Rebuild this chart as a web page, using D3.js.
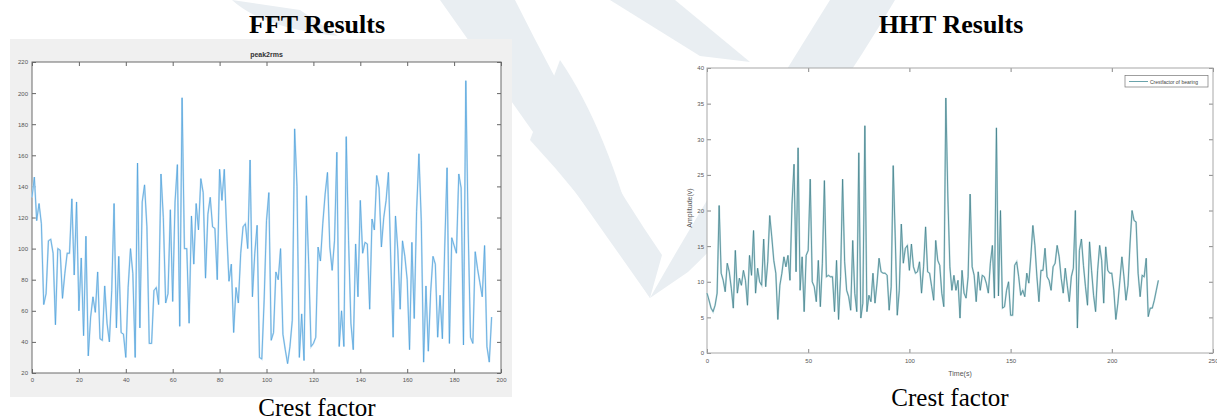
<!DOCTYPE html>
<html lang="en">
<head>
<meta charset="UTF-8">
<title>Crest factor - FFT vs HHT</title>
<script src="https://cdn.jsdelivr.net/npm/d3@7"></script>
<style>
  body { margin: 0; background: #fff; }
  svg text { font-family: "Liberation Sans", Arial, sans-serif; }
  .cap { font-family: "Liberation Serif", "Times New Roman", serif; fill: #000; }
</style>
</head>
<body>
<script>
// ---- data ----
var fftTitle = "peak2rms";
var fftXTicks = [0, 20, 40, 60, 80, 100, 120, 140, 160, 180, 200];
var fftYTicks = [20, 40, 60, 80, 100, 120, 140, 160, 180, 200, 220];
// peak2rms per sample, index = x
var fftValues = [
  133,146,118,129,116,64,71,105,106,97,
  51,100,99,68,84,97,97,132,83,130,
  60,94,44,108,31,56,69,59,85,42,
  41,76,52,40,73,129,49,95,46,45,
  30,75,100,84,30,155,49,130,141,114,
  39,39,73,75,64,148,120,65,71,125,
  66,130,154,50,197,100,100,52,121,90,
  129,112,145,136,81,122,133,114,113,80,
  151,131,151,112,79,90,46,75,65,97,
  114,116,100,157,69,97,115,30,29,67,
  118,136,41,46,85,80,100,45,35,26,
  37,54,177,140,30,58,28,134,90,37,
  39,43,101,92,116,135,149,101,86,105,
  162,37,60,37,172,105,52,35,103,69,
  131,97,104,103,61,119,112,147,139,101,
  120,131,149,92,43,121,99,61,105,95,
  80,35,104,55,124,161,118,27,76,34,
  72,95,90,43,70,42,101,152,39,107,
  102,97,148,139,38,208,112,43,39,98,
  87,78,69,102,37,27,56
];

var hhtXTicks = [0, 50, 100, 150, 200, 250];
var hhtYTicks = [0, 5, 10, 15, 20, 25, 30, 35, 40];
var hhtLegend = "Crestfactor of bearing";
// crest factor per second, index = time(s)
var hhtValues = [
  8.4,7.4,6.3,5.8,6.7,8.4,20.7,11.2,10.2,8.6,
  12.6,11.4,9.1,6.3,14.4,8.4,10.5,9.5,11.6,10.2,
  6.7,13.7,10.9,17.2,8.4,11.9,10.0,9.5,16.0,9.3,
  12.8,19.3,16.3,13.0,11.2,4.7,9.5,11.2,13.5,12.1,
  13.7,10.2,20.9,26.5,11.4,28.8,8.8,13.5,5.8,13.7,
  14.4,24.4,10.0,9.3,7.2,13.0,6.5,12.6,24.2,10.7,
  10.9,10.7,10.7,5.8,13.0,4.7,10.7,24.4,12.8,8.8,
  7.9,6.0,15.8,8.4,5.8,28.1,4.9,7.0,31.9,5.8,
  8.1,7.2,11.2,7.0,9.8,13.3,11.4,11.2,11.2,10.9,
  6.0,9.3,26.3,16.3,5.3,8.8,18.1,12.6,14.7,15.1,
  11.6,15.3,12.1,11.2,11.4,12.8,8.4,12.1,17.7,11.4,
  11.2,9.3,7.4,15.8,13.0,12.3,8.4,6.5,35.8,21.9,
  12.1,8.8,10.9,8.8,10.2,4.9,11.6,8.4,7.7,10.7,
  22.3,12.1,10.9,7.2,11.4,8.8,10.9,10.7,9.8,8.4,
  12.6,15.1,7.7,31.6,8.0,20.0,6.3,6.5,8.8,10.0,
  5.3,5.3,12.3,12.8,10.7,8.1,8.8,7.9,11.2,9.8,
  13.5,17.9,15.1,10.7,7.2,11.6,11.6,14.7,10.7,10.2,
  8.8,12.1,12.6,15.1,13.5,10.5,8.4,11.9,9.5,7.2,
  10.7,11.9,20.0,3.5,14.4,16.0,12.3,9.3,6.7,15.6,
  11.6,8.1,5.8,11.6,15.1,13.0,7.0,14.9,11.6,11.2,
  11.2,8.8,4.7,7.0,10.2,13.5,10.7,7.4,9.5,15.3,
  20.0,18.6,18.4,11.2,7.9,10.9,10.7,13.3,5.1,6.3,
  6.3,7.4,8.8,10.2
];

var W = 1217, H = 420;
var svg = d3.select("body").append("svg")
  .attr("width", W).attr("height", H);

svg.append("rect").attr("width", W).attr("height", H).attr("fill", "#fff");

// faint watermark behind everything
var wm = svg.append("g").attr("fill", "#e9eef2");
wm.append("path").attr("d", "M440,0 L515,0 Q590,150 662,255 L650,298 Q560,170 440,0 Z");
wm.append("path").attr("d", "M830,0 L895,0 Q795,170 688,272 L650,298 Q705,200 830,0 Z");
wm.append("path").attr("d", "M560,60 Q615,140 650,298 Q600,215 530,140 Z");
wm.append("path").attr("d", "M232,0 Q262,28 338,36 L300,10 Z");
wm.append("path").attr("d", "M610,0 L675,0 L750,62 L700,56 Z");

// ---------------- left : FFT ----------------
svg.append("rect").attr("x", 10).attr("y", 39).attr("width", 502).attr("height", 358)
  .attr("fill", "#f0f0f0");

var L = {x0: 32, x1: 501, y0: 62, y1: 373};
var fx = d3.scaleLinear().domain([0, 200]).range([L.x0, L.x1]);
var fy = d3.scaleLinear().domain([20, 220]).range([L.y1, L.y0]);

svg.append("rect").attr("x", L.x0).attr("y", L.y0)
  .attr("width", L.x1 - L.x0).attr("height", L.y1 - L.y0).attr("fill", "#fff");

function styleAxis(g, col, fs) {
  g.select(".domain").remove();
  g.selectAll("line").attr("stroke", col);
  g.selectAll("text").attr("fill", "#555").attr("font-size", fs);
}

svg.append("g").attr("transform", "translate(0," + L.y1 + ")")
  .call(d3.axisBottom(fx).tickValues(fftXTicks).tickSize(-4).tickSizeOuter(0).tickPadding(5))
  .call(styleAxis, "#666", 6);
svg.append("g").attr("transform", "translate(0," + L.y0 + ")")
  .call(d3.axisTop(fx).tickValues(fftXTicks).tickSize(-4).tickSizeOuter(0).tickFormat(""))
  .call(styleAxis, "#666", 6);
svg.append("g").attr("transform", "translate(" + L.x0 + ",0)")
  .call(d3.axisLeft(fy).tickValues(fftYTicks).tickSize(-4).tickSizeOuter(0).tickPadding(4))
  .call(styleAxis, "#666", 6);
svg.append("g").attr("transform", "translate(" + L.x1 + ",0)")
  .call(d3.axisRight(fy).tickValues(fftYTicks).tickSize(-4).tickSizeOuter(0).tickFormat(""))
  .call(styleAxis, "#666", 6);

svg.append("rect").attr("x", L.x0).attr("y", L.y0)
  .attr("width", L.x1 - L.x0).attr("height", L.y1 - L.y0)
  .attr("fill", "none").attr("stroke", "#6a6a6a").attr("stroke-width", 1);

var fftLine = d3.line().x(function(d, i) { return fx(i); }).y(function(d) { return fy(d); });
svg.append("path").datum(fftValues).attr("d", fftLine)
  .attr("fill", "none").attr("stroke", "#c6e1f3").attr("stroke-width", 1.8);
svg.append("path").datum(fftValues).attr("d", fftLine)
  .attr("fill", "none").attr("stroke", "#4a9fdb").attr("stroke-width", 0.7);

svg.append("text").attr("x", (L.x0 + L.x1) / 2).attr("y", 57)
  .attr("text-anchor", "middle").attr("font-size", 7).attr("font-weight", "bold")
  .attr("fill", "#333").text(fftTitle);

// ---------------- right : HHT ----------------
var R = {x0: 707, x1: 1213, y0: 68, y1: 353};
var hx = d3.scaleLinear().domain([0, 250]).range([R.x0, R.x1]);
var hy = d3.scaleLinear().domain([0, 40]).range([R.y1, R.y0]);

svg.append("rect").attr("x", R.x0).attr("y", R.y0)
  .attr("width", R.x1 - R.x0).attr("height", R.y1 - R.y0).attr("fill", "#fff");

svg.append("g").attr("transform", "translate(0," + R.y1 + ")")
  .call(d3.axisBottom(hx).tickValues(hhtXTicks).tickSize(-4).tickSizeOuter(0).tickPadding(6))
  .call(styleAxis, "#888", 6);
svg.append("g").attr("transform", "translate(0," + R.y0 + ")")
  .call(d3.axisTop(hx).tickValues(hhtXTicks).tickSize(-4).tickSizeOuter(0).tickFormat(""))
  .call(styleAxis, "#888", 6);
svg.append("g").attr("transform", "translate(" + R.x0 + ",0)")
  .call(d3.axisLeft(hy).tickValues(hhtYTicks).tickSize(-4).tickSizeOuter(0).tickPadding(3))
  .call(styleAxis, "#888", 6);
svg.append("g").attr("transform", "translate(" + R.x1 + ",0)")
  .call(d3.axisRight(hy).tickValues(hhtYTicks).tickSize(-4).tickSizeOuter(0).tickFormat(""))
  .call(styleAxis, "#888", 6);

svg.append("rect").attr("x", R.x0).attr("y", R.y0)
  .attr("width", R.x1 - R.x0).attr("height", R.y1 - R.y0)
  .attr("fill", "none").attr("stroke", "#a8a8a8").attr("stroke-width", 1);

var hhtLine = d3.line().x(function(d, i) { return hx(i); }).y(function(d) { return hy(d); });
svg.append("path").datum(hhtValues).attr("d", hhtLine)
  .attr("fill", "none").attr("stroke", "#bcdbe0").attr("stroke-width", 1.8);
svg.append("path").datum(hhtValues).attr("d", hhtLine)
  .attr("fill", "none").attr("stroke", "#3e7c86").attr("stroke-width", 0.7);

svg.append("text").attr("transform", "translate(692,208) rotate(-90)")
  .attr("text-anchor", "middle").attr("font-size", 7).attr("fill", "#555").text("Amplitude(v)");
svg.append("text").attr("x", 960).attr("y", 376)
  .attr("text-anchor", "middle").attr("font-size", 7).attr("fill", "#555").text("Time(s)");

// legend
var lg = svg.append("g");
lg.append("rect").attr("x", 1125).attr("y", 75.5).attr("width", 83).attr("height", 11.5)
  .attr("fill", "#fff").attr("stroke", "#777").attr("stroke-width", 0.7);
lg.append("line").attr("x1", 1129).attr("x2", 1148).attr("y1", 81.5).attr("y2", 81.5)
  .attr("stroke", "#6aa3ab").attr("stroke-width", 1);
lg.append("text").attr("x", 1150).attr("y", 83.5).attr("font-size", 5)
  .attr("fill", "#444").text(hhtLegend);

// ---------------- captions ----------------
svg.append("text").attr("class", "cap").attr("x", 317).attr("y", 33)
  .attr("text-anchor", "middle").attr("font-size", 26).attr("font-weight", "bold").text("FFT Results");
svg.append("text").attr("class", "cap").attr("x", 951).attr("y", 33)
  .attr("text-anchor", "middle").attr("font-size", 26).attr("font-weight", "bold").text("HHT Results");
svg.append("text").attr("class", "cap").attr("x", 317).attr("y", 416)
  .attr("text-anchor", "middle").attr("font-size", 25).text("Crest factor");
svg.append("text").attr("class", "cap").attr("x", 950).attr("y", 406)
  .attr("text-anchor", "middle").attr("font-size", 25).text("Crest factor");
</script>
</body>
</html>
